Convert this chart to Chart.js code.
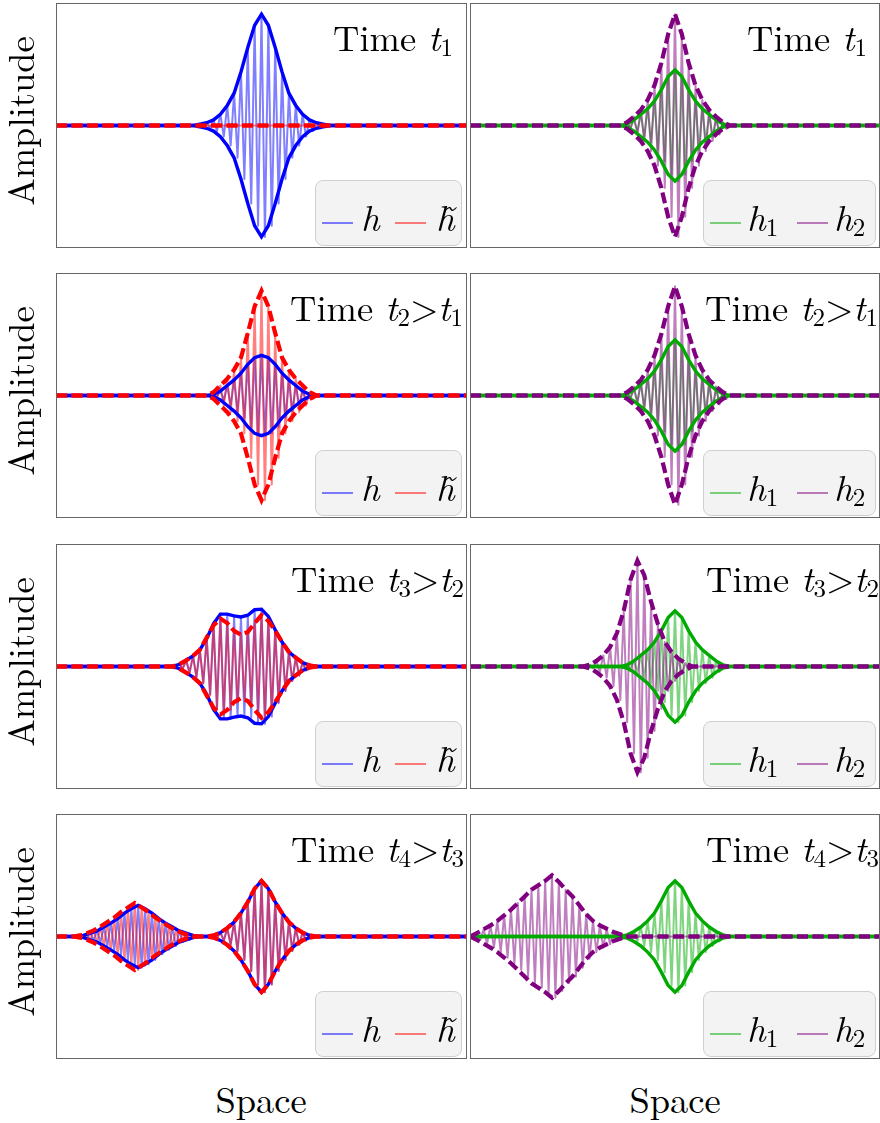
<!DOCTYPE html>
<html>
<head>
<meta charset="utf-8">
<script src="https://cdn.jsdelivr.net/npm/chart.js@4.4.0/dist/chart.umd.min.js"></script>
<style>
  body { margin: 0; width: 880px; height: 1123px; background: #fff; position: relative; overflow: hidden;
         font-family: "Latin Modern Roman", "Liberation Serif", serif; color: #000; }
  .panel { position: absolute; }
  .panel canvas { position: absolute; left: 0; top: 0; }
  .frame { position: absolute; left: 0; top: 0; right: 0; bottom: 0; border: 1px solid #666; box-sizing: border-box; }
  .txt { position: absolute; font-size: 36.5px; line-height: 38px; white-space: nowrap; }
  .txt i { font-style: italic; }
  .sub { font-size: 25px; position: relative; top: 5px; }
  .rot { position: absolute; width: 0; height: 0; }
  .rot span { position: absolute; left: 0; top: 0; font-size: 36.5px; line-height: 38px; white-space: nowrap;
              transform: translate(-50%, -50%) rotate(-90deg); }
  .legend { position: absolute; height: 66px; background: #f3f3f3; border: 1px solid #cfcfcf;
            border-radius: 8px; box-sizing: border-box; }
  .legend .ln { position: absolute; top: 41px; width: 31px; height: 2px; }
</style>
</head>
<body>
<script>
'use strict';

// space runs over 60 carrier periods in every panel, amplitude is +-1.1
const spaceMin = 0;
const spaceMax = 60;
const ampMax = 1.1;

// envelopes, one value per carrier period, starting at ...From
// time t1
const hT1From = 20;
const hT1 = [0, 0.012, 0.025, 0.05, 0.10, 0.18, 0.29, 0.48, 0.70, 0.90, 1.0, 0.90, 0.70, 0.48, 0.29, 0.18, 0.10, 0.05, 0.025, 0.012, 0];
const htT1 = [];
const h1T1From = 22;
const h1T1 = [0, 0.015, 0.05, 0.10, 0.15, 0.22, 0.32, 0.44, 0.50, 0.44, 0.32, 0.22, 0.15, 0.10, 0.05, 0.015, 0];
const h2T1From = 22;
const h2T1 = [0, 0.03, 0.08, 0.14, 0.23, 0.36, 0.56, 0.82, 1.0, 0.82, 0.56, 0.36, 0.23, 0.14, 0.08, 0.03, 0];

// time t2
const hT2From = 22;
const hT2 = [0, 0.01, 0.04, 0.09, 0.14, 0.20, 0.28, 0.34, 0.36, 0.34, 0.28, 0.20, 0.14, 0.09, 0.04, 0.01, 0];
const htT2From = 22;
const htT2 = [0, 0.03, 0.09, 0.15, 0.23, 0.34, 0.56, 0.80, 0.94, 0.80, 0.56, 0.34, 0.23, 0.15, 0.09, 0.03, 0];
const h1T2From = 22;
const h1T2 = [0, 0.015, 0.05, 0.10, 0.15, 0.22, 0.32, 0.44, 0.50, 0.44, 0.32, 0.22, 0.15, 0.10, 0.05, 0.015, 0];
const h2T2From = 22;
const h2T2 = [0, 0.03, 0.08, 0.14, 0.23, 0.36, 0.55, 0.80, 0.98, 0.80, 0.55, 0.36, 0.23, 0.14, 0.08, 0.03, 0];

// time t3
const hT3From = 17;
const hT3 = [0, 0.02, 0.055, 0.095, 0.15, 0.25, 0.385, 0.47, 0.47, 0.455, 0.445, 0.46, 0.51, 0.515, 0.45, 0.33, 0.22, 0.13, 0.08, 0.035, 0.01, 0];
const htT3From = 17;
const htT3 = [0, 0.02, 0.055, 0.095, 0.15, 0.26, 0.37, 0.43, 0.39, 0.32, 0.285, 0.31, 0.39, 0.46, 0.41, 0.32, 0.22, 0.13, 0.08, 0.035, 0.01, 0];
const h1T3From = 22;
const h1T3 = [0, 0.015, 0.05, 0.10, 0.15, 0.22, 0.32, 0.44, 0.50, 0.44, 0.32, 0.22, 0.15, 0.10, 0.05, 0.015, 0];
const h2T3From = 16.5;
const h2T3 = [0, 0.015, 0.05, 0.10, 0.175, 0.30, 0.50, 0.78, 0.95, 0.82, 0.58, 0.38, 0.22, 0.13, 0.07, 0.03, 0];

// time t4 (two packets on the left)
const hT4aFrom = 3;
const hT4a = [0, 0.01, 0.03, 0.05, 0.085, 0.12, 0.16, 0.21, 0.25, 0.28, 0.25, 0.21, 0.16, 0.12, 0.085, 0.05, 0.03, 0.01, 0];
const hT4bFrom = 22;
const hT4b = [0, 0.01, 0.035, 0.075, 0.13, 0.21, 0.31, 0.43, 0.50, 0.43, 0.31, 0.21, 0.13, 0.075, 0.035, 0.01, 0];
const htT4aFrom = 2.5;
const htT4a = [0, 0.01, 0.03, 0.055, 0.09, 0.13, 0.17, 0.22, 0.26, 0.30, 0.26, 0.22, 0.17, 0.13, 0.09, 0.055, 0.03, 0.01, 0];
const htT4bFrom = 22;
const htT4b = [0, 0.01, 0.035, 0.075, 0.13, 0.21, 0.31, 0.43, 0.50, 0.43, 0.31, 0.21, 0.13, 0.075, 0.035, 0.01, 0];
const h1T4From = 22;
const h1T4 = [0, 0.015, 0.045, 0.085, 0.14, 0.21, 0.32, 0.44, 0.50, 0.44, 0.32, 0.21, 0.14, 0.085, 0.045, 0.015, 0];
const h2T4From = 0;
const h2T4 = [0, 0.03, 0.065, 0.10, 0.14, 0.19, 0.24, 0.30, 0.36, 0.42, 0.46, 0.50, 0.55, 0.49, 0.42, 0.36, 0.28, 0.20, 0.14, 0.10, 0.07, 0.04, 0.02, 0];

const leftData = [
  [[[hT1From, hT1]], []],
  [[[hT2From, hT2]], [[htT2From, htT2]]],
  [[[hT3From, hT3]], [[htT3From, htT3]]],
  [[[hT4aFrom, hT4a], [hT4bFrom, hT4b]], [[htT4aFrom, htT4a], [htT4bFrom, htT4b]]]
];
const rightData = [
  [[[h1T1From, h1T1]], [[h2T1From, h2T1]]],
  [[[h1T2From, h1T2]], [[h2T2From, h2T2]]],
  [[[h1T3From, h1T3]], [[h2T3From, h2T3]]],
  [[[h1T4From, h1T4]], [[h2T4From, h2T4]]]
];

const leftPal = { a: '#0000ff', lightA: 'rgba(0,0,255,0.5)', b: '#ff0000', lightB: 'rgba(255,0,0,0.5)' };
const rightPal = { a: '#00aa00', lightA: 'rgba(0,170,0,0.5)', b: '#800080', lightB: 'rgba(128,0,128,0.5)' };

const rowTops = [3, 273, 544, 814];
const colLefts = [56, 470];
const colWidths = [411, 410];
const panelHeight = 245;
const titleRight = [[14, 4, 3, 3], [13, 2, 1, 1]];

function envelope(parts) {
  let pts = [{x: spaceMin, y: 0}];
  parts.forEach(function(part) {
    part[1].forEach(function(v, i) { pts.push({x: part[0] + i, y: v}); });
  });
  pts.push({x: spaceMax, y: 0});
  return pts;
}

// carrier swings between the upper and lower envelope every half period
function carrier(env) {
  let pts = [];
  env.forEach(function(p) {
    pts.push({x: p.x, y: p.y});
    pts.push({x: p.x + 0.5, y: -p.y});
  });
  return pts;
}

function flip(pts) {
  return pts.map(function(p) { return {x: p.x, y: -p.y}; });
}

function line(data, color, width, dash, join) {
  return { data: data, borderColor: color, borderWidth: width, borderDash: dash,
           borderCapStyle: 'butt', borderJoinStyle: join, pointRadius: 0, fill: false, tension: 0 };
}

function makeChart(canvas, parts, pal) {
  let ea = envelope(parts[0]);
  let eb = envelope(parts[1]);
  // paint order, bottom first
  let ds = [
    line(carrier(ea), pal.lightA, 2, [], 'round'),
    line(carrier(eb), pal.lightB, 2, [], 'round'),
    line(ea, pal.a, 3.4, [], 'miter'),
    line(flip(ea), pal.a, 3.4, [], 'miter'),
    line(eb, pal.b, 4.2, [11, 4.5], 'miter'),
    line(flip(eb), pal.b, 4.2, [11, 4.5], 'miter')
  ];
  ds.reverse();
  return new Chart(canvas.getContext('2d'), {
    type: 'line',
    data: { datasets: ds },
    options: {
      responsive: false,
      animation: false,
      events: [],
      layout: { padding: 0 },
      plugins: { legend: { display: false }, tooltip: { enabled: false } },
      scales: {
        x: { type: 'linear', min: spaceMin, max: spaceMax, display: false },
        y: { type: 'linear', min: -ampMax, max: ampMax, display: false }
      }
    }
  });
}

function addDiv(cls, html, css) {
  let d = document.createElement('div');
  d.className = cls;
  d.innerHTML = html;
  Object.assign(d.style, css);
  document.body.appendChild(d);
  return d;
}

const sub = function(s) { return '<span class="sub">' + s + '</span>'; };

for (let c = 0; c < 2; c++) {
  for (let r = 0; r < 4; r++) {
    let top = rowTops[r];
    let left = colLefts[c];
    let w = colWidths[c];

    let p = addDiv('panel', '', { left: left + 'px', top: top + 'px', width: w + 'px', height: panelHeight + 'px' });
    let cv = document.createElement('canvas');
    cv.width = w;
    cv.height = panelHeight;
    p.appendChild(cv);
    let fr = document.createElement('div');
    fr.className = 'frame';
    p.appendChild(fr);
    makeChart(cv, c === 0 ? leftData[r] : rightData[r], c === 0 ? leftPal : rightPal);

    let t = 'Time <i>t</i>' + sub(r + 1);
    if (r > 0) t += '&gt;<i>t</i>' + sub(r);
    addDiv('txt', t, { right: (880 - (left + w) + titleRight[c][r]) + 'px', top: (top + 14) + 'px' });

    let lg;
    if (c === 0) {
      lg = addDiv('legend', '', { left: (left + 259) + 'px', top: (top + 177) + 'px', width: '147px' });
      lg.innerHTML =
        '<div class="ln" style="left:6px;background:' + leftPal.lightA + '"></div>' +
        '<div class="txt" style="left:45px;top:16px"><i>h</i></div>' +
        '<div class="ln" style="left:79px;background:' + leftPal.lightB + '"></div>' +
        '<div class="txt" style="left:120px;top:16px"><i>h&#771;</i></div>';
    } else {
      lg = addDiv('legend', '', { left: (left + 233) + 'px', top: (top + 177) + 'px', width: '173px' });
      lg.innerHTML =
        '<div class="ln" style="left:6px;background:' + rightPal.lightA + '"></div>' +
        '<div class="txt" style="left:43px;top:16px"><i>h</i>' + sub(1) + '</div>' +
        '<div class="ln" style="left:93px;background:' + rightPal.lightB + '"></div>' +
        '<div class="txt" style="left:130px;top:16px"><i>h</i>' + sub(2) + '</div>';
    }
  }
}

rowTops.forEach(function(top) {
  addDiv('rot', '<span>Amplitude</span>', { left: '19px', top: (top + 118) + 'px' });
});
addDiv('txt', 'Space', { left: '261px', top: '1079px', transform: 'translateX(-50%)' });
addDiv('txt', 'Space', { left: '675px', top: '1079px', transform: 'translateX(-50%)' });
</script>
</body>
</html>
